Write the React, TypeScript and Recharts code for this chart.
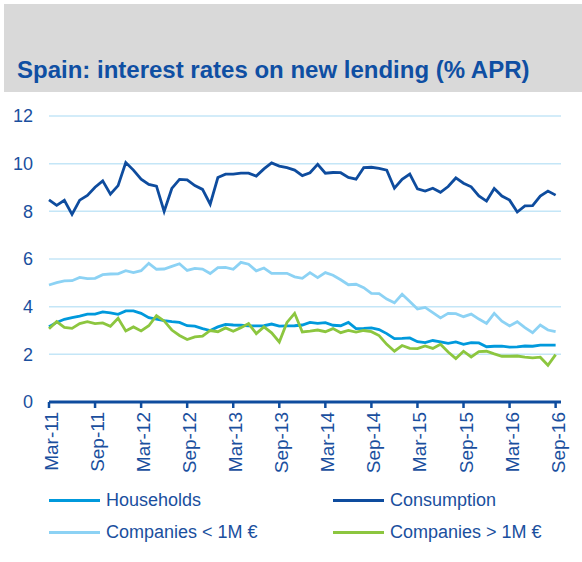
import { LineChart, Line, XAxis, YAxis, CartesianGrid } from "recharts";

const TEXT = "#1A4F9E";
const DARK = "#0E4C9E";
const MID = "#0099DC";
const LIGHT = "#8CD2F4";
const GREEN = "#8CC63F";
const GRID = "#C4E6F7";
const FONT = "'Liberation Sans', Arial, sans-serif";

const MONTH_NAMES = ["Jan", "Feb", "Mar", "Apr", "May", "Jun", "Jul", "Aug", "Sep", "Oct", "Nov", "Dec"];
const START_YEAR = 2011;
const START_MONTH = 2; // March
const N_MONTHS = 67;

// Mar-11 .. Sep-16
const MONTHS = Array.from({ length: N_MONTHS }, (_, i) => {
  const m = START_MONTH + i;
  const y = START_YEAR + Math.floor(m / 12);
  return `${MONTH_NAMES[m % 12]}-${String(y).slice(2)}`;
});

const TICK_IDX = [0, 6, 12, 18, 24, 30, 36, 42, 48, 54, 60, 66];
const Y_TICKS = [0, 2, 4, 6, 8, 10, 12];

const HOUSEHOLDS = [
  3.16, 3.34, 3.47, 3.54, 3.6, 3.69, 3.69, 3.78, 3.74, 3.68, 3.82, 3.82, 3.72, 3.54, 3.48, 3.41, 3.37, 3.34, 3.2, 3.18, 3.08, 3.0, 3.15,
  3.26, 3.23, 3.22, 3.19, 3.19, 3.2, 3.27, 3.18, 3.19, 3.2, 3.23, 3.34, 3.3, 3.33, 3.22, 3.2, 3.34, 3.08, 3.09, 3.11, 3.04, 2.87,
  2.66, 2.67, 2.69, 2.53, 2.49, 2.58, 2.52, 2.46, 2.52, 2.42, 2.49, 2.48, 2.32, 2.34, 2.34, 2.3, 2.31, 2.35, 2.34, 2.39, 2.39, 2.39,
];

const CONSUMPTION = [
  8.48, 8.25, 8.46, 7.87, 8.47, 8.67, 9.01, 9.28, 8.72, 9.08, 10.05, 9.73, 9.35, 9.13, 9.06, 8.0, 8.96, 9.34, 9.32, 9.08,
  8.92, 8.3, 9.42, 9.56, 9.56, 9.6, 9.6, 9.48, 9.78, 10.03, 9.9, 9.83, 9.73, 9.5, 9.62, 9.97, 9.6, 9.63, 9.62, 9.42,
  9.35, 9.83, 9.85, 9.8, 9.73, 8.97, 9.34, 9.56, 8.94, 8.85, 8.97, 8.8, 9.04, 9.4, 9.18, 9.03, 8.65, 8.43, 8.96, 8.64,
  8.47, 7.97, 8.23, 8.24, 8.64, 8.85, 8.68,
];

const COMPANIES_SMALL = [
  4.91, 5.01, 5.08, 5.09, 5.23, 5.18, 5.19, 5.34, 5.37, 5.38, 5.51, 5.43, 5.51, 5.82, 5.57, 5.58, 5.69, 5.8, 5.52, 5.61, 5.58, 5.39, 5.64,
  5.65, 5.57, 5.86, 5.78, 5.5, 5.62, 5.4, 5.4, 5.4, 5.25, 5.19, 5.43, 5.22, 5.43, 5.32, 5.13, 4.92, 4.94, 4.8, 4.56, 4.55, 4.32,
  4.16, 4.52, 4.22, 3.9, 3.97, 3.75, 3.53, 3.72, 3.71, 3.58, 3.69, 3.48, 3.3, 3.72, 3.39, 3.19, 3.37, 3.12, 2.91, 3.23, 3.02, 2.95,
];

const COMPANIES_LARGE = [
  3.07, 3.37, 3.13, 3.09, 3.29, 3.37, 3.29, 3.32, 3.18, 3.51, 2.98, 3.15, 2.98, 3.2, 3.62, 3.4, 3.02, 2.79, 2.62, 2.73, 2.76, 3.0, 2.95,
  3.11, 2.97, 3.12, 3.29, 2.87, 3.15, 2.9, 2.52, 3.34, 3.72, 2.94, 2.97, 3.02, 2.95, 3.08, 2.91, 3.0, 2.93, 3.0, 2.95, 2.79, 2.42,
  2.13, 2.37, 2.25, 2.24, 2.35, 2.25, 2.42, 2.1, 1.82, 2.13, 1.89, 2.11, 2.13, 2.02, 1.92, 1.92, 1.93, 1.88, 1.85, 1.88, 1.54, 1.99,
];

const SERIES = [
  { key: "small", name: "Companies < 1M €", color: LIGHT, values: COMPANIES_SMALL },
  { key: "cons", name: "Consumption", color: DARK, values: CONSUMPTION },
  { key: "hh", name: "Households", color: MID, values: HOUSEHOLDS },
  { key: "large", name: "Companies > 1M €", color: GREEN, values: COMPANIES_LARGE },
];

const rows = MONTHS.map((month, i) => {
  const r: Record<string, string | number> = { i, month };
  SERIES.forEach((s) => {
    r[s.key] = s.values[i];
  });
  return r;
});

function MonthTick(props: any) {
  const { x, y, payload } = props;
  const tx = x + 9;
  return (
    <text
      x={tx}
      y={y}
      transform={`rotate(-90, ${tx}, ${y})`}
      textAnchor="end"
      fill={TEXT}
      fontSize={19}
      fontFamily={FONT}
    >
      {MONTHS[payload.value]}
    </text>
  );
}

const legendItems = [
  { name: "Households", color: MID, left: 49, top: 500 },
  { name: "Consumption", color: DARK, left: 333, top: 500 },
  { name: "Companies < 1M €", color: LIGHT, left: 49, top: 532 },
  { name: "Companies > 1M €", color: GREEN, left: 333, top: 532 },
];

export default function App() {
  return (
    <div style={{ position: "absolute", left: 0, top: 0, width: 582, height: 562, background: "#fff", fontFamily: FONT }}>
      <div style={{ position: "absolute", left: 4, top: 4, width: 578, height: 88, background: "#D9D9D9" }} />
      <div
        style={{
          position: "absolute",
          left: 17,
          top: 56,
          fontSize: 24,
          fontWeight: "bold",
          color: "#0F4FA3",
          lineHeight: "28px",
          whiteSpace: "nowrap",
        }}
      >
        Spain: interest rates on new lending (% APR)
      </div>

      <div style={{ position: "absolute", left: 0, top: 0 }}>
        <LineChart width={582} height={562} data={rows} margin={{ top: 116, right: 21, bottom: 90, left: 0 }}>
          <CartesianGrid vertical={false} stroke={GRID} strokeWidth={1.5} />
          <XAxis
            type="number"
            dataKey="i"
            domain={[0, 66.7]}
            ticks={TICK_IDX}
            interval={0}
            height={70}
            axisLine={{ stroke: DARK, strokeWidth: 3 }}
            tickLine={{ stroke: DARK, strokeWidth: 2.5 }}
            tickSize={6}
            tickMargin={4}
            tick={<MonthTick />}
          />
          <YAxis
            domain={[0, 12]}
            ticks={Y_TICKS}
            width={49}
            axisLine={false}
            tickLine={false}
            tickSize={0}
            tickMargin={16}
            tick={{ fill: TEXT, fontSize: 18, fontFamily: FONT }}
          />
          {SERIES.map((s) => (
            <Line
              key={s.key}
              type="linear"
              dataKey={s.key}
              name={s.name}
              stroke={s.color}
              strokeWidth={2.8}
              dot={false}
              activeDot={false}
              isAnimationActive={false}
            />
          ))}
        </LineChart>
      </div>

      {legendItems.map((it) => (
        <div
          key={it.name}
          style={{ position: "absolute", left: it.left, top: it.top - 11, height: 22, display: "flex", alignItems: "center" }}
        >
          <div style={{ width: 51, height: 3, background: it.color, marginRight: 6 }} />
          <span style={{ fontSize: 18, color: TEXT, whiteSpace: "nowrap" }}>{it.name}</span>
        </div>
      ))}
    </div>
  );
}
